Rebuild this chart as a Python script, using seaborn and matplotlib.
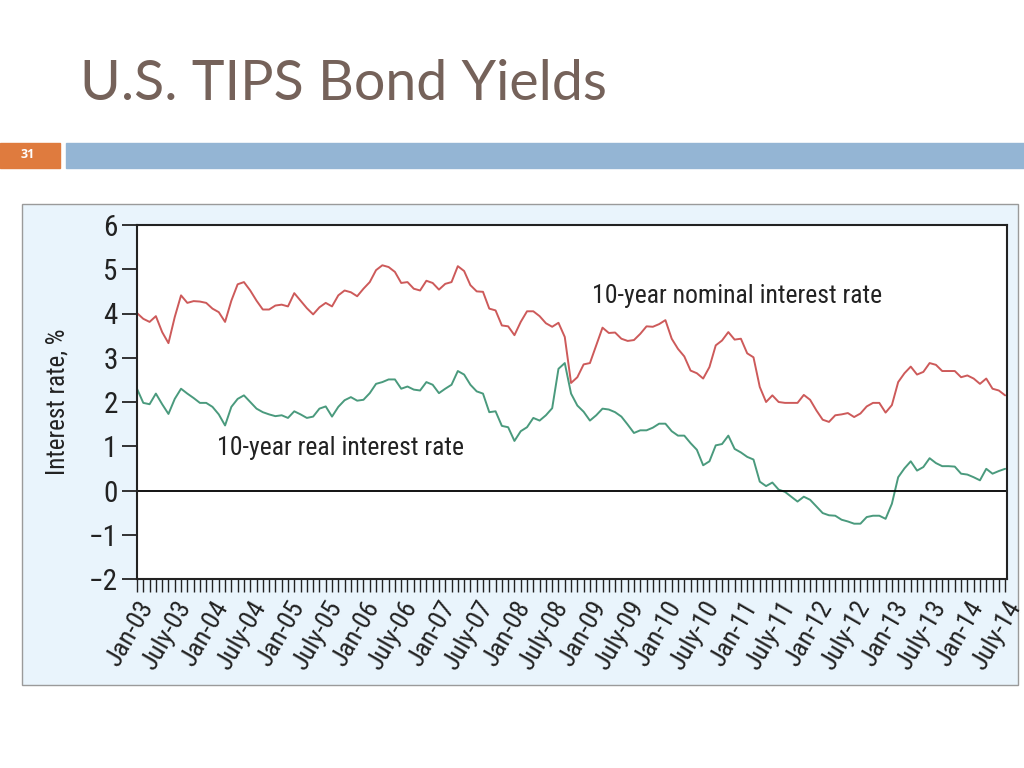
import numpy as np
import pandas as pd
import matplotlib
matplotlib.use("Agg")
import matplotlib.pyplot as plt
import seaborn as sns
from matplotlib.patches import Rectangle
from matplotlib import font_manager

# 10-year nominal and real (TIPS) yields, monthly Jan-03 .. July-14
nominal = [
    4.01, 3.88, 3.81, 3.94, 3.58, 3.33, 3.92, 4.41, 4.24, 4.28, 4.27, 4.24,
    4.11, 4.03, 3.81, 4.29, 4.66, 4.71, 4.52, 4.29, 4.09, 4.09, 4.18, 4.20,
    4.16, 4.46, 4.29, 4.12, 3.98, 4.14, 4.24, 4.16, 4.41, 4.52, 4.48, 4.39,
    4.56, 4.71, 4.98, 5.09, 5.05, 4.94, 4.69, 4.71, 4.56, 4.52, 4.74, 4.69,
    4.54, 4.67, 4.71, 5.07, 4.96, 4.64, 4.50, 4.49, 4.11, 4.07, 3.73, 3.71,
    3.51, 3.81, 4.05, 4.05, 3.94, 3.78, 3.70, 3.79, 3.47, 2.43, 2.56, 2.85,
    2.88, 3.28, 3.68, 3.56, 3.57, 3.43, 3.38, 3.40, 3.54, 3.71, 3.70, 3.76,
    3.85, 3.43, 3.20, 3.03, 2.71, 2.65, 2.53, 2.79, 3.28, 3.39, 3.58, 3.41,
    3.43, 3.10, 3.01, 2.34, 2.00, 2.15, 2.00, 1.98, 1.98, 1.98, 2.16, 2.05,
    1.81, 1.60, 1.55, 1.70, 1.72, 1.75, 1.66, 1.74, 1.90, 1.98, 1.98, 1.76,
    1.93, 2.45, 2.65, 2.80, 2.62, 2.68, 2.88, 2.84, 2.70, 2.70, 2.70, 2.56,
    2.60, 2.53, 2.41, 2.53, 2.30, 2.26, 2.15,
]
real = [
    2.30, 1.98, 1.95, 2.19, 1.95, 1.73, 2.07, 2.30, 2.19, 2.09, 1.98, 1.98,
    1.89, 1.72, 1.47, 1.89, 2.07, 2.15, 2.00, 1.85, 1.77, 1.72, 1.68, 1.70,
    1.64, 1.79, 1.72, 1.64, 1.67, 1.85, 1.90, 1.67, 1.89, 2.04, 2.11, 2.03,
    2.05, 2.20, 2.41, 2.45, 2.51, 2.51, 2.30, 2.35, 2.28, 2.26, 2.45, 2.39,
    2.20, 2.30, 2.39, 2.70, 2.62, 2.39, 2.24, 2.19, 1.77, 1.79, 1.46, 1.43,
    1.12, 1.34, 1.43, 1.64, 1.58, 1.70, 1.86, 2.75, 2.88, 2.19, 1.92, 1.78,
    1.58, 1.70, 1.85, 1.83, 1.77, 1.67, 1.49, 1.30, 1.36, 1.36, 1.42, 1.51,
    1.51, 1.34, 1.24, 1.24, 1.07, 0.92, 0.57, 0.66, 1.02, 1.05, 1.24, 0.94,
    0.86, 0.76, 0.70, 0.20, 0.10, 0.18, 0.02, -0.03, -0.14, -0.25, -0.14, -0.21,
    -0.36, -0.51, -0.56, -0.57, -0.66, -0.70, -0.75, -0.75, -0.60, -0.57, -0.57, -0.64,
    -0.30, 0.30, 0.50, 0.66, 0.45, 0.53, 0.73, 0.62, 0.55, 0.55, 0.54, 0.38,
    0.36, 0.30, 0.23, 0.49, 0.38, 0.44, 0.49,
]
tick_labels = [
    "Jan-03", "July-03", "Jan-04", "July-04", "Jan-05", "July-05",
    "Jan-06", "July-06", "Jan-07", "July-07", "Jan-08", "July-08",
    "Jan-09", "July-09", "Jan-10", "July-10", "Jan-11", "July-11",
    "Jan-12", "July-12", "Jan-13", "July-13", "Jan-14", "July-14",
]
y_ticks = [-2, -1, 0, 1, 2, 3, 4, 5, 6]

months = np.arange(len(nominal))
df = pd.DataFrame({"month": months, "nominal": nominal, "real": real})

# narrow face if one exists, otherwise Arial-like Liberation Sans
installed = {f.name for f in font_manager.fontManager.ttflist}
narrow = [n for n in ["Roboto Condensed", "Liberation Sans Narrow", "Open Sans Condensed"]
          if n in installed]

sns.set_theme(style="white")
plt.rcParams["font.family"] = narrow + ["Liberation Sans", "DejaVu Sans"]

W, H = 1024, 768
fig = plt.figure(figsize=(W / 100, H / 100), dpi=100)
fig.patch.set_facecolor("white")

# slide decoration
fig.text(80 / W, 1 - 84 / H, "U.S. TIPS Bond Yields", fontsize=40,
         color="#75625a", family=["Lato", "DejaVu Sans"], va="center", ha="left")
fig.patches.append(Rectangle((0, 1 - 168 / H), 60 / W, 25 / H,
                             transform=fig.transFigure, color="#df7b3e", zorder=0))
fig.patches.append(Rectangle((66 / W, 1 - 168 / H), 1 - 66 / W, 25 / H,
                             transform=fig.transFigure, color="#94b5d4", zorder=0))
fig.text(28 / W, 1 - 155 / H, "31", fontsize=9, color="white", weight="bold",
         family=["Open Sans", "DejaVu Sans"], ha="center", va="center")

# chart panel
fig.patches.append(Rectangle((22 / W, 1 - 685 / H), 996 / W, 481 / H,
                             transform=fig.transFigure, facecolor="#e9f4fc",
                             edgecolor="#9a9a9a", linewidth=1.0, zorder=-1))

ax = fig.add_axes([137 / W, 1 - 579 / H, 870 / W, 354 / H])
ax.set_zorder(2)
ax.set_facecolor("white")
sns.lineplot(data=df, x="month", y="nominal", ax=ax, color="#cd5a5a", linewidth=1.4)
sns.lineplot(data=df, x="month", y="real", ax=ax, color="#4a9a7d", linewidth=1.4)
ax.axhline(0, color="black", linewidth=1.3)

ax.set_ylim(-2, 6)
ax.set_xlim(0, len(nominal) - 1 + 0.3)
ax.set_yticks(y_ticks)
ax.set_yticklabels(["\u22122", "\u22121", "0", "1", "2", "3", "4", "5", "6"],
                   fontsize=21, color="#222222")
ax.set_xticks(np.arange(0, len(nominal), 6))
ax.set_xticklabels(tick_labels, rotation=60, ha="right", rotation_mode="anchor",
                   fontsize=19, color="#222222")
ax.set_xticks(months, minor=True)
ax.tick_params(axis="x", which="both", direction="out", length=9, width=1.0,
               color="#222222", bottom=True, pad=4)
ax.tick_params(axis="y", direction="out", length=11, width=1.3, color="#222222",
               left=True, pad=3)
for sp in ax.spines.values():
    sp.set_color("#222222")
    sp.set_linewidth(1.5)

ax.set_xlabel("")
ax.set_ylabel("Interest rate, %", fontsize=18, labelpad=14, color="#222222")

ax.text(72.3, 4.39, "10-year nominal interest rate", fontsize=18.5, color="#222222",
        va="center", ha="left")
ax.text(12.7, 0.97, "10-year real interest rate", fontsize=18.5, color="#222222",
        va="center", ha="left")

fig.savefig("out.png", dpi=100)
